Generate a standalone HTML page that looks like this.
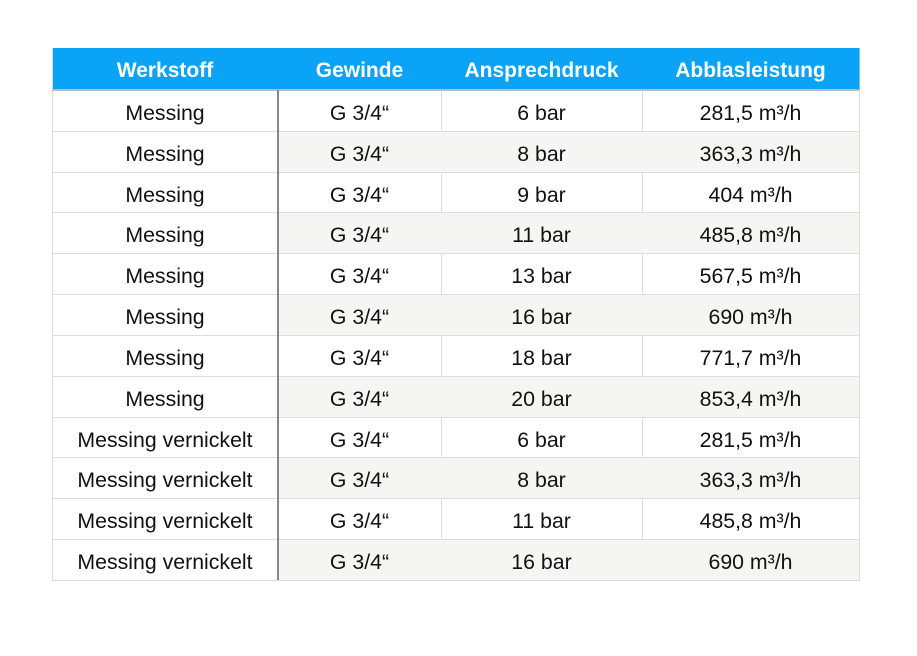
<!DOCTYPE html>
<html><head><style>
body{margin:0;width:917px;height:656px;background:#fff;font-family:"Liberation Sans",sans-serif;position:relative;overflow:hidden}
.c{position:absolute;display:flex;align-items:center;justify-content:center;font-size:21.3px;color:#111;box-sizing:border-box;padding-top:5px;border-right:1px solid #ddd;border-bottom:1px solid #ddd;border-top:1px solid #ddd}
.h{background:#0aa3f5;color:#fff;font-weight:bold;font-size:21px;border-right:1px solid #6cc6f7;border-bottom:none;border-top:none;padding-top:2px}
.g{background:#f5f5f3}
</style></head><body>
<div id="t"></div>
<script>
const X=[52,278,441,642,859];
const rows=[["Werkstoff","Gewinde","Ansprechdruck","Abblasleistung"],
["Messing","G 3/4“","6 bar","281,5 m³/h"],
["Messing","G 3/4“","8 bar","363,3 m³/h"],
["Messing","G 3/4“","9 bar","404 m³/h"],
["Messing","G 3/4“","11 bar","485,8 m³/h"],
["Messing","G 3/4“","13 bar","567,5 m³/h"],
["Messing","G 3/4“","16 bar","690 m³/h"],
["Messing","G 3/4“","18 bar","771,7 m³/h"],
["Messing","G 3/4“","20 bar","853,4 m³/h"],
["Messing vernickelt","G 3/4“","6 bar","281,5 m³/h"],
["Messing vernickelt","G 3/4“","8 bar","363,3 m³/h"],
["Messing vernickelt","G 3/4“","11 bar","485,8 m³/h"],
["Messing vernickelt","G 3/4“","16 bar","690 m³/h"]];
let h='';
rows.forEach((r,i)=>{
 const y0=i==0?48:90+(i-1)*40.83, y1=i==0?90:90+i*40.83;
 r.forEach((t,j)=>{
  let cls='c'+(i==0?' h':'')+(i>0&&i%2==0&&j>0?' g':'');
  h+=`<div class="${cls}" style="left:${X[j]}px;top:${y0}px;width:${X[j+1]-X[j]+1}px;height:${y1-y0+1}px">${t}</div>`;
 });
});
h+=`<div style="position:absolute;left:52px;top:48px;width:1px;height:532px;background:#ddd"></div>`;
h+=`<div style="position:absolute;left:52px;top:89px;width:807px;height:2px;background:#bbb"></div>`;
h+=`<div style="position:absolute;left:277px;top:90px;width:2px;height:490px;background:#888"></div>`;
document.getElementById('t').innerHTML=h;
</script>
</body></html>
